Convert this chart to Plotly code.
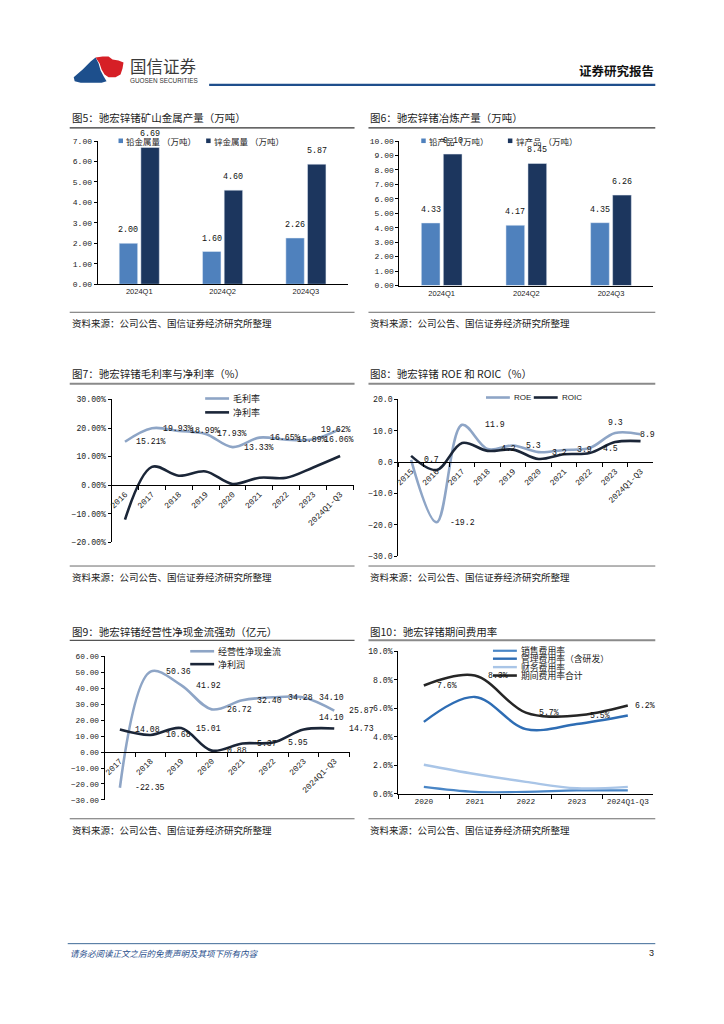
import plotly.graph_objects as go

W, H = 724, 1024
def px(x): return x / W
def py(y): return 1 - y / H

CJK = "Noto Sans CJK SC"
MONO = "Liberation Mono"
SANS = "Liberation Sans"

# ---------------- data ----------------
quarters = ["2024Q1", "2024Q2", "2024Q3"]
mine_lead = [2.00, 1.60, 2.26]
mine_zinc = [6.69, 4.60, 5.87]
smelt_lead = [4.33, 4.17, 4.35]
smelt_zinc = [9.10, 8.45, 6.26]

years_margin = ["2016", "2017", "2018", "2019", "2020", "2021", "2022", "2023", "2024Q1-Q3"]
gross_margin = [15.21, 19.93, 18.99, 17.93, 13.33, 16.65, 15.89, 16.06, 19.62]
net_margin = [-12.1, 6.4, 3.3, 4.8, 0.4, 2.6, 2.6, 6.2, 10.2]

years_roe = ["2015", "2016", "2017", "2018", "2019", "2020", "2021", "2022", "2023", "2024Q1-Q3"]
roe = [0.7, -19.2, 11.9, 4.2, 5.3, 3.2, 3.9, 4.5, 9.3, 8.9]
roic = [2.0, -2.5, 6.1, 3.6, 4.0, 1.0, 2.5, 2.9, 6.4, 6.7]

years_cf = ["2017", "2018", "2019", "2020", "2021", "2022", "2023", "2024Q1-Q3"]
op_cashflow = [-22.35, 50.36, 41.92, 26.72, 32.40, 34.28, 34.10, 25.87]
net_profit = [14.08, 10.68, 15.01, 0.88, 5.37, 5.95, 14.10, 14.73]

years_exp = ["2020", "2021", "2022", "2023", "2024Q1-Q3"]
sales_rate = [0.50, 0.15, 0.15, 0.25, 0.25]
admin_rate = [5.05, 6.80, 4.55, 4.90, 5.50]
finance_rate = [2.05, 1.40, 0.85, 0.40, 0.50]
total_rate = [7.6, 8.3, 5.7, 5.5, 6.2]

# ---------------- styles ----------------
LEAD = "#4F81BD"
ZINC = "#1C365E"
LIGHT = "#8EA5C6"
DARK = "#1B2638"
SALES = "#4A86C6"
ADMIN = "#2E6DB4"
FIN = "#A9C5E7"
TOTAL = "#262626"
BARGAP = 0.48

fig = go.Figure()

# chart 1: mine output
fig.add_bar(x=quarters, y=mine_lead, name="铅金属量 （万吨）", marker_color=LEAD, xaxis="x", yaxis="y")
fig.add_bar(x=quarters, y=mine_zinc, name="锌金属量 （万吨）", marker_color=ZINC, xaxis="x", yaxis="y")
# chart 2: smelting output
fig.add_bar(x=quarters, y=smelt_lead, name="铅产品（万吨）", marker_color=LEAD, xaxis="x2", yaxis="y2")
fig.add_bar(x=quarters, y=smelt_zinc, name="锌产品 （万吨）", marker_color=ZINC, xaxis="x2", yaxis="y2")

def line(xs, ys, name, color, ax, width=2.6):
    fig.add_scatter(x=xs, y=ys, name=name, mode="lines", xaxis="x" + ax, yaxis="y" + ax,
                    line=dict(color=color, width=width, shape="spline", smoothing=1.0))

line(years_margin, gross_margin, "毛利率", LIGHT, "3")
line(years_margin, net_margin, "净利率", DARK, "3")
line(years_roe, roe, "ROE", LIGHT, "4")
line(years_roe, roic, "ROIC", DARK, "4")
line(years_cf, op_cashflow, "经营性净现金流", LIGHT, "5")
line(years_cf, net_profit, "净利润", DARK, "5")
line(years_exp, sales_rate, "销售费用率", SALES, "6", 2.2)
line(years_exp, admin_rate, "管理费用率（含研发）", ADMIN, "6", 2.4)
line(years_exp, finance_rate, "财务费用率", FIN, "6", 2.4)
line(years_exp, total_rate, "期间费用率合计", TOTAL, "6", 2.6)
fig.update_traces(showlegend=False)

# ---------------- axes ----------------
def yax(domain, rng, dtick, fmt, suffix="", anchor="x", size=8):
    return dict(domain=[py(domain[0]), py(domain[1])], range=rng, dtick=dtick, tickformat=fmt,
                ticksuffix=suffix, anchor=anchor, showgrid=False, zeroline=False, showline=True,
                linecolor="black", linewidth=1, ticks="outside", ticklen=3, tickcolor="black",
                tickfont=dict(family=MONO, size=size, color="#222"), fixedrange=True)

def zero_pos(domain, rng):
    b, t = py(domain[0]), py(domain[1])
    return b + (0 - rng[0]) / (rng[1] - rng[0]) * (t - b)

def xax(x0, x1, anchor, n, position=None, angle=0, size=7.5, ticks="", family=MONO):
    d = dict(domain=[px(x0), px(x1)], type="category", range=[-0.5, n - 0.5], showgrid=False,
             zeroline=False, showline=True, linecolor="black", linewidth=1, ticks=ticks, ticklen=4,
             tickcolor="black", tickson="boundaries", tickangle=angle,
             tickfont=dict(family=family, size=size, color="#222"), fixedrange=True)
    if position is None:
        d["anchor"] = anchor
    else:
        d["anchor"] = "free"
        d["position"] = position
    return d

D1, R1 = (282.7, 138.3), [0, 7]
D2, R2 = (284, 138.3), [0, 10]
D3, R3 = (543, 399), [-20, 30]
D4, R4 = (557, 399), [-30, 20]
D5, R5 = (803, 658), [-30, 60]
D6, R6 = (797, 653), [0, 10]

fig.update_layout(
    xaxis=xax(95, 346, "y", 3, size=7.5, family=SANS),
    yaxis=yax(D1, R1, 1, ".2f", anchor="x"),
    xaxis2=xax(398, 653, "y2", 3, size=7.5, family=SANS),
    yaxis2=yax(D2, R2, 1, ".2f", anchor="x2"),
    xaxis3=xax(109, 352, "y3", 9, position=zero_pos(D3, R3), angle=-45, size=8.3, ticks="outside"),
    yaxis3=yax(D3, R3, 10, ".2f", "%", anchor="x3", size=8.2),
    xaxis4=xax(397, 653, "y4", 10, position=zero_pos(D4, R4), angle=-45, size=8.3, ticks="outside"),
    yaxis4=yax(D4, R4, 10, ".1f", anchor="x4", size=8.2),
    xaxis5=xax(102, 348, "y5", 8, position=zero_pos(D5, R5), angle=-45, size=8.3, ticks="outside"),
    yaxis5=yax(D5, R5, 10, ".2f", anchor="x5", size=7.8),
    xaxis6=xax(397, 653, "y6", 5, size=7.8, ticks="outside"),
    yaxis6=yax(D6, R6, 2, ".1f", "%", anchor="x6", size=8.2),
)

# ---------------- decorations ----------------
shapes, ann = [], []

def hline(x0, x1, y, color, width):
    shapes.append(dict(type="line", xref="paper", yref="paper", x0=px(x0), x1=px(x1),
                       y0=py(y), y1=py(y), line=dict(color=color, width=width)))

def text(x, y, s, size, color="#222", family=CJK, xanchor="left", yanchor="middle"):
    ann.append(dict(xref="paper", yref="paper", x=px(x), y=py(y), text=s, showarrow=False,
                    xanchor=xanchor, yanchor=yanchor, font=dict(family=family, size=size, color=color)))

def path(points, color):
    d = "M " + " L ".join(f"{px(a):.5f},{py(b):.5f}" for a, b in points) + " Z"
    shapes.append(dict(type="path", xref="paper", yref="paper", path=d,
                       fillcolor=color, line=dict(width=0)))

# header
path([(71, 74), (80, 66), (88, 58), (93, 54), (96, 60), (98, 67), (101, 73), (104, 78), (99, 79.5), (78, 79.5), (72, 78)], "#1D4F8C")
path([(93, 54), (100, 53), (106, 53), (110, 56), (116, 57), (121, 59), (120, 65), (118, 71), (113, 74), (106, 74), (102, 71), (99, 66), (97, 60)], "#D61F26")
text(126, 62.5, "国信证券", 16.5, "#3a3a3a")
text(126, 77, "GUOSEN SECURITIES", 6.4, "#333", SANS)
hline(207, 655, 81.5, "#1F4E8C", 2.2)
text(656, 67.5, "<b>证券研究报告</b>", 12.5, "#111", xanchor="right")

# footer
hline(65, 655, 948, "#3E6A97", 1)
text(65, 957, "<i>请务必阅读正文之后的免责声明及其项下所有内容</i>", 8.5, "#1F4E8C")
text(656, 957, "3", 9, "#222", SANS, xanchor="right")

# titles, underlines, sources
titles = [
    (67, 115, 125, "图5：驰宏锌锗矿山金属产量（万吨）", "#333", 1.2),
    (367, 115, 125, "图6：驰宏锌锗冶炼产量（万吨）", "#333", 1.2),
    (67, 373, 383, "图7：驰宏锌锗毛利率与净利率（%）", "#8a8a8a", 2),
    (367, 373, 383, "图8：驰宏锌锗 ROE 和 ROIC（%）", "#8a8a8a", 2),
    (67, 633, 642, "图9：驰宏锌锗经营性净现金流强劲（亿元）", "#555", 1.2),
    (367, 633, 642, "图10：驰宏锌锗期间费用率", "#8a8a8a", 2),
]
for x0, ty, ly, s, lc, lw in titles:
    text(x0, ty, s, 10.5, "#222")
    hline(x0, x0 + 286 if x0 < 300 else 655, ly, lc, lw)

for sy in (322, 578, 833):
    for x0 in (67, 367):
        hline(x0, x0 + 286 if x0 < 300 else 655, sy - 11, "#444", 0.8)
        text(x0, sy, "资料来源：公司公告、国信证券经济研究所整理", 9.5, "#222")

# legends (manual)
def leg_square(x, y, color, label, size=8.5):
    shapes.append(dict(type="rect", xref="paper", yref="paper", x0=px(x), x1=px(x + 4.5),
                       y0=py(y + 2.3), y1=py(y - 2.3), fillcolor=color, line=dict(width=0)))
    text(x + 6, y, label, size, "#222")

def leg_line(x, y, color, label, size=9, width=2.6, family=CJK):
    hline(x, x + 24, y, color, width)
    text(x + 26, y, label, size, "#222", family)

leg_square(116, 138, LEAD, "铅金属量 （万吨）")
leg_square(204, 138, ZINC, "锌金属量 （万吨）")
leg_square(420, 138, LEAD, "铅产品（万吨）")
leg_square(507, 138, ZINC, "锌产品 （万吨）")
leg_line(203, 398, LIGHT, "毛利率")
leg_line(203, 412, DARK, "净利率")
leg_line(485, 397, LIGHT, "ROE", 8, family=SANS)
leg_line(533, 397, DARK, "ROIC", 8, family=SANS)
leg_line(188, 653, LIGHT, "经营性净现金流")
leg_line(188, 666, DARK, "净利润")
leg_line(492, 652.5, SALES, "销售费用率", 8.8, 2.2)
leg_line(492, 660.5, ADMIN, "管理费用率（含研发）", 8.8, 2.4)
leg_line(492, 669, FIN, "财务费用率", 8.8, 2.4)
leg_line(492, 677.5, TOTAL, "期间费用率合计", 8.8, 2.6)

# data labels (x given as category index so numeric-looking years are not misread)
def dlabels(ax, vals, fmt, xshift=0, yshift=0, xanchor="left", yanchor="middle",
            special=None, size=8.2):
    special = special or {}
    for i, v in enumerate(vals):
        o = dict(xshift=xshift, yshift=yshift, xanchor=xanchor, yanchor=yanchor)
        o.update(special.get(i, {}))
        ann.append(dict(xref="x" + ax, yref="y" + ax, x=i, y=v, text=fmt.format(v), showarrow=False,
                        font=dict(family=MONO, size=size, color="#111"), **o))

off = (1 - BARGAP) / 4

def bar_labels(ax, vals, side):
    for i, v in enumerate(vals):
        ann.append(dict(xref="x" + ax, yref="y" + ax, x=i + side * off, y=v, text=f"{v:.2f}",
                        showarrow=False, xanchor="center", yanchor="bottom", yshift=6,
                        font=dict(family=MONO, size=8.4, color="#111")))

bar_labels("", mine_lead, -1)
bar_labels("", mine_zinc, 1)
bar_labels("2", smelt_lead, -1)
bar_labels("2", smelt_zinc, 1)

dlabels("3", gross_margin, "{:.2f}%", xshift=9, special={8: dict(xanchor="center", xshift=-4)})
dlabels("4", roe, "{:.1f}", xshift=11,
        special={2: dict(xshift=21), 8: dict(xanchor="center", xshift=0, yanchor="bottom", yshift=4),
                 9: dict(xshift=-3)})
dlabels("5", op_cashflow, "{:.2f}", xshift=13)
dlabels("5", net_profit, "{:.2f}", xshift=13, special={6: dict(yshift=12)})
dlabels("6", total_rate, "{:.1f}%", xshift=11, special={4: dict(xshift=5)})

fig.update_layout(
    width=W, height=H, margin=dict(l=0, r=0, t=0, b=0),
    paper_bgcolor="white", plot_bgcolor="white",
    barmode="group", bargap=BARGAP, bargroupgap=0.15,
    showlegend=False, shapes=shapes, annotations=ann,
    font=dict(family=CJK, color="#222"),
)

# remove the browser's default 8px page margin so the figure sits at the window origin
fig.write_html("out.html", config={"displayModeBar": False},
               post_script="document.body.style.margin='0';document.body.style.overflow='hidden';")
